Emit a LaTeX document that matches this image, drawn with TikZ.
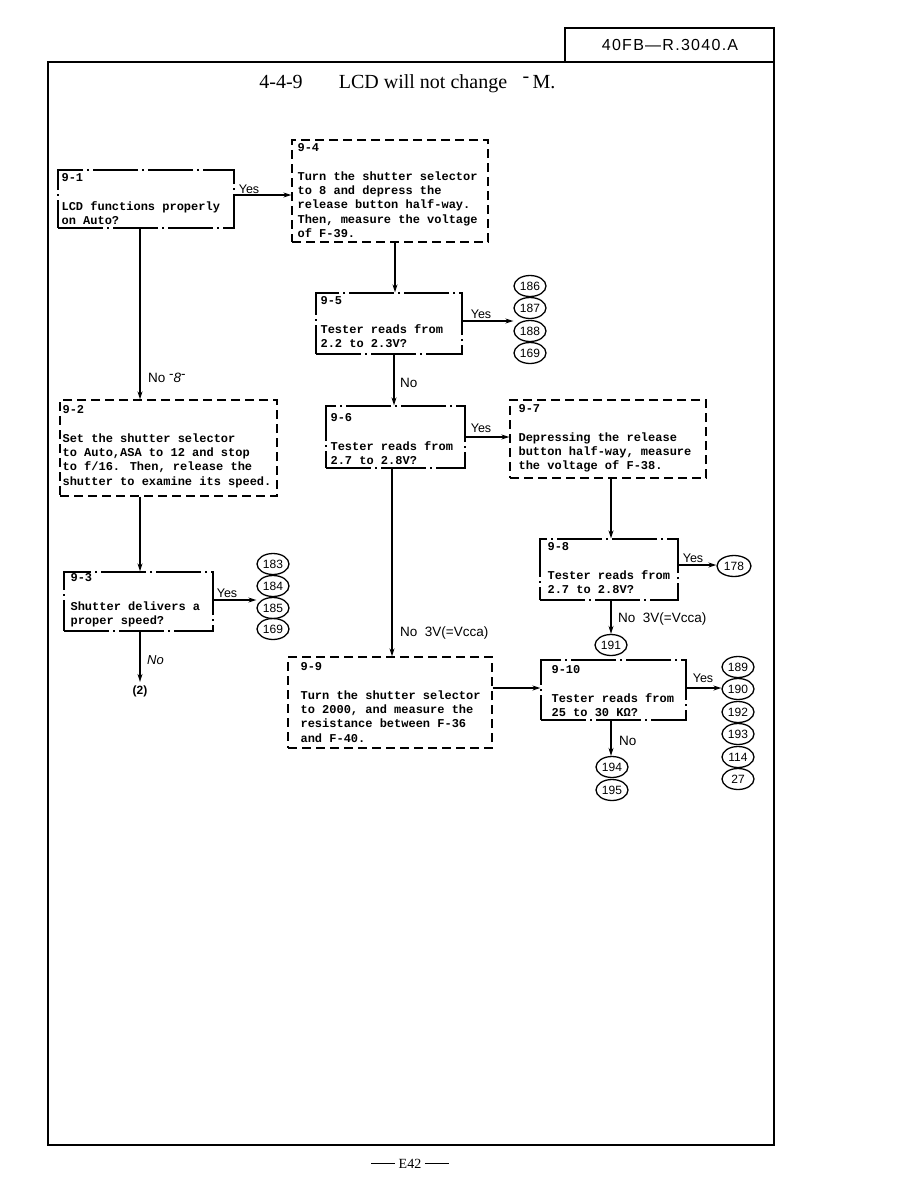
\documentclass[tikz,border=0pt]{standalone}
\usepackage{fontspec}
\setmainfont{Liberation Serif}
\newfontfamily\monof{Liberation Mono}
\newfontfamily\sansf{Liberation Sans}
\usetikzlibrary{shapes.geometric,arrows.meta}
\tikzset{
  frame/.style={line width=1.6pt},
  qbox/.style={draw, line width=1.3pt, dash pattern=on 45pt off 4pt on 2pt off 4pt, inner sep=0pt},
  abox/.style={draw, line width=1.3pt, dash pattern=on 9pt off 5pt, inner sep=0pt},
  boxtxt/.style={font=\monof\bfseries\fontsize{12}{14.3}\selectfont, align=left, anchor=north west, inner sep=0pt},
  lbl/.style={font=\sansf\fontsize{12.5}{14}\selectfont, inner sep=0pt},
  nolbl/.style={font=\sansf\fontsize{13.5}{15}\selectfont, inner sep=0pt, anchor=west},
  num/.style={draw, ellipse, line width=1.3pt, minimum width=32pt, minimum height=21pt, inner sep=0pt, font=\sansf\fontsize{12}{14}\selectfont},
  arr/.style={line width=1.2pt, -{Stealth[length=8pt,width=5pt]}},
  ttl/.style={font=\fontsize{20}{22}\selectfont, anchor=base, inner sep=0pt}
}
\begin{document}
\begin{tikzpicture}[x=1pt,y=-1pt]
\useasboundingbox (0,0) rectangle (918,1188);
% page frame
\draw[frame] (48,62) rectangle (774,1145);
\draw[frame] (565,28) rectangle (774,62);
\node[font=\sansf\fontsize{16}{18}\selectfont\addfontfeature{LetterSpace=8}] (hdr) at (670,45) {40FB—R.3040.A};
% title
\node[ttl] (t1) at (281,89) {4-4-9};
\node[ttl] (t2) at (423,89) {LCD will not change};
\node[ttl] (t3) at (539,89) {\raisebox{0.3em}{-}\,M.};
% boxes
\node[qbox, minimum width=176pt, minimum height=58pt] (b1) at (146,199) {};
\node[abox, minimum width=196pt, minimum height=102pt] (b4) at (390,191) {};
\node[qbox, minimum width=146pt, minimum height=61pt] (b5) at (389,323.5) {};
\node[qbox, minimum width=139pt, minimum height=62pt] (b6) at (395.5,437) {};
\node[abox, minimum width=196pt, minimum height=78pt] (b7) at (608,439) {};
\node[qbox, minimum width=138pt, minimum height=61pt] (b8) at (609,569.5) {};
\node[qbox, minimum width=145pt, minimum height=60pt] (b10) at (613.5,690) {};
\node[abox, minimum width=204pt, minimum height=91pt] (b9) at (390,702.5) {};
\node[abox, minimum width=217pt, minimum height=96pt] (b2) at (168.5,448) {};
\node[qbox, minimum width=149pt, minimum height=59pt] (b3) at (138.5,601.5) {};
% box texts
\node[boxtxt] (x1) at ([xshift=4pt,yshift=-4pt]b1.north west) {9-1\\[14.3pt]LCD functions properly\\on Auto?};
\node[boxtxt] (x4) at ([xshift=6pt,yshift=-4pt]b4.north west) {9-4\\[14.3pt]Turn the shutter selector\\to 8 and depress the\\release button half-way.\\Then, measure the voltage\\of F-39.};
\node[boxtxt] (x5) at ([xshift=5pt,yshift=-4pt]b5.north west) {9-5\\[14.3pt]Tester reads from\\2.2 to 2.3V?};
\node[boxtxt] (x6) at ([xshift=5pt,yshift=-8pt]b6.north west) {9-6\\[14.3pt]Tester reads from\\2.7 to 2.8V?};
\node[boxtxt] (x7) at ([xshift=9pt,yshift=-5pt]b7.north west) {9-7\\[14.3pt]Depressing the release\\button half-way, measure\\the voltage of F-38.};
\node[boxtxt] (x8) at ([xshift=8pt,yshift=-4pt]b8.north west) {9-8\\[14.3pt]Tester reads from\\2.7 to 2.8V?};
\node[boxtxt] (x10) at ([xshift=11pt,yshift=-6pt]b10.north west) {9-10\\[14.3pt]Tester reads from\\25 to 30 KΩ?};
\node[boxtxt] (x9) at ([xshift=13pt,yshift=-6pt]b9.north west) {9-9\\[14.3pt]Turn the shutter selector\\to 2000, and measure the\\resistance between F-36\\and F-40.};
\node[boxtxt] (x2) at ([xshift=3pt,yshift=-6pt]b2.north west) {9-2\\[14.3pt]Set the shutter selector\\to Auto,ASA to 12 and stop\\to f/16.  Then, release the\\shutter to examine its speed.};
\node[boxtxt] (x3) at ([xshift=7pt,yshift=-2pt]b3.north west) {9-3\\[14.3pt]Shutter delivers a\\proper speed?};
% circled references
\node[num] (c186) at (530,286) {186};
\node[num] (c187) at (530,308) {187};
\node[num] (c188) at (530,331) {188};
\node[num] (c169a) at (530,353) {169};
\node[num] (c183) at (273,564) {183};
\node[num] (c184) at (273,586) {184};
\node[num] (c185) at (273,608) {185};
\node[num] (c169b) at (273,629) {169};
\node[num, minimum width=34pt] (c178) at (734,566) {178};
\node[num] (c191) at (611,645) {191};
\node[num] (c189) at (738,667) {189};
\node[num] (c190) at (738,689) {190};
\node[num] (c192) at (738,712) {192};
\node[num] (c193) at (738,734) {193};
\node[num] (c114) at (738,757) {114};
\node[num] (c27) at (738,779) {27};
\node[num] (c194) at (612,767) {194};
\node[num] (c195) at (612,790) {195};
\node[font=\sansf\fontsize{12}{14}\selectfont\bfseries] (r2) at (140,691) {(2)};
% connectors
\draw[arr] ([yshift=4pt]b1.east) -- ([yshift=4pt]b1.east -| b4.west);
\draw[arr] ([xshift=5pt]b4.south) -- ([xshift=5pt]b4.south |- b5.north);
\draw[arr] ([yshift=2.5pt]b5.east) -- ([yshift=2.5pt]b5.east -| c187.west);
\draw[arr] ([xshift=5pt]b5.south) -- ([xshift=5pt]b5.south |- b6.north);
\draw[arr] (b6.east) -- (b6.east -| b7.west);
\draw[arr] ([xshift=3pt]b7.south) -- ([xshift=3pt]b7.south |- b8.north);
\draw[arr] ([yshift=4.5pt]b8.east) -- ([yshift=4.5pt]b8.east -| c178.west);
\draw[arr] ([xshift=2pt]b8.south) -- ([xshift=2pt]b8.south |- c191.north);
\draw[arr] ([xshift=-3.5pt]b6.south) -- ([xshift=-3.5pt]b6.south |- b9.north);
\draw[arr] ([yshift=14.5pt]b9.east) -- ([yshift=14.5pt]b9.east -| b10.west);
\draw[arr] ([yshift=2pt]b10.east) -- ([yshift=2pt]b10.east -| c190.west);
\draw[arr] ([xshift=-2.5pt]b10.south) -- ([xshift=-2.5pt]b10.south |- c194.north);
\draw[arr] ([xshift=-6pt]b1.south) -- ([xshift=-6pt]b1.south |- b2.north);
\draw[arr] ([xshift=-28.5pt]b2.south) -- ([xshift=-28.5pt]b2.south |- b3.north);
\draw[arr] ([xshift=1.5pt]b3.south) -- ([xshift=1.5pt]b3.south |- r2.north);
\draw[arr] ([yshift=1.5pt]b3.east) -- ([yshift=1.5pt]b3.east -| c185.west);
% labels
\node[lbl] (y1) at (249,189) {Yes};
\node[lbl] (y5) at (481,314) {Yes};
\node[lbl] (y6) at (481,428) {Yes};
\node[lbl] (y3) at (227,593) {Yes};
\node[lbl] (y8) at (693,558) {Yes};
\node[lbl] (y10) at (703,678) {Yes};
\node[nolbl] (n1) at (148,378) {No \raisebox{0.3em}{-}\textit{8}\raisebox{0.3em}{-}};
\node[nolbl] (n5) at (400,383) {No};
\node[nolbl] (n6) at (400,633) {No\ \ 3V(=Vcca)};
\node[nolbl] (n8) at (618,619) {No\ \ 3V(=Vcca)};
\node[nolbl, font=\sansf\itshape\fontsize{13}{15}\selectfont] (n3) at (147,660) {No};
\node[nolbl] (n10) at (619,741) {No};
% footer
\node[font=\fontsize{14}{16}\selectfont] (ft) at (410,1164) {\rule[0.3em]{24pt}{1pt}\ E42\ \rule[0.3em]{24pt}{1pt}};
\end{tikzpicture}
\end{document}
